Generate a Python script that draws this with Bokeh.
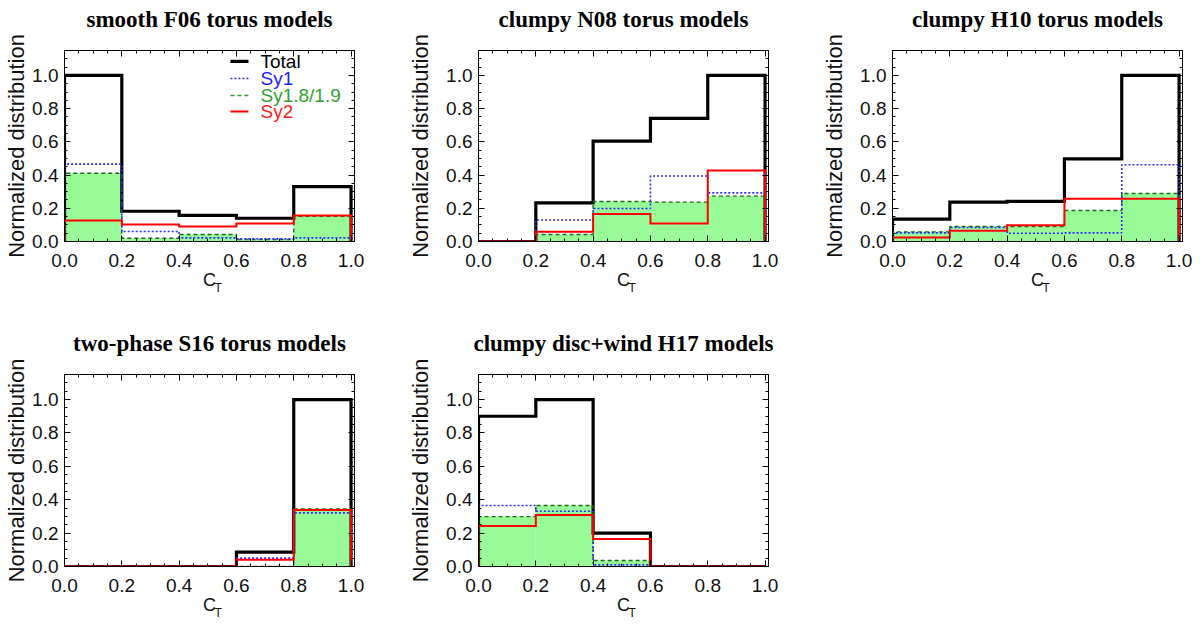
import numpy as np
from bokeh.plotting import figure
from bokeh.layouts import row, column
from bokeh.models import (LinearAxis, FixedTicker, PrintfTickFormatter, Range1d, Title,
                          CustomJSTickFormatter)
from bokeh.core.properties import value
from bokeh.embed import file_html
from bokeh.resources import INLINE

# ---------------- data ----------------
bin_edges = [0.0, 0.2, 0.4, 0.6, 0.8, 1.0]
x_major = [0.0, 0.2, 0.4, 0.6, 0.8, 1.0]
y_major = [0.0, 0.2, 0.4, 0.6, 0.8, 1.0]

series_names = ["Total", "Sy1", "Sy1.8/1.9", "Sy2"]

titles = ["smooth F06 torus models", "clumpy N08 torus models", "clumpy H10 torus models",
          "two-phase S16 torus models", "clumpy disc+wind H17 models"]

f06_total = [1.000, 0.182, 0.157, 0.140, 0.331]
f06_sy1 = [0.466, 0.060, 0.022, 0.016, 0.022]
f06_sy18 = [0.411, 0.020, 0.042, 0.012, 0.152]
f06_sy2 = [0.126, 0.102, 0.090, 0.108, 0.157]

n08_total = [0.000, 0.233, 0.604, 0.741, 1.000]
n08_sy1 = [0.000, 0.129, 0.199, 0.394, 0.293]
n08_sy18 = [0.000, 0.042, 0.241, 0.237, 0.273]
n08_sy2 = [0.000, 0.058, 0.165, 0.108, 0.428]

h10_total = [0.135, 0.237, 0.241, 0.498, 1.000]
h10_sy1 = [0.052, 0.084, 0.050, 0.052, 0.462]
h10_sy18 = [0.058, 0.090, 0.090, 0.187, 0.289]
h10_sy2 = [0.024, 0.064, 0.098, 0.257, 0.257]

s16_total = [0.000, 0.000, 0.000, 0.086, 1.000]
s16_sy1 = [0.000, 0.000, 0.000, 0.050, 0.321]
s16_sy18 = [0.000, 0.000, 0.000, 0.000, 0.345]
s16_sy2 = [0.000, 0.000, 0.000, 0.040, 0.339]

h17_total = [0.900, 1.000, 0.200, 0.000, 0.000]
h17_sy1 = [0.365, 0.331, 0.010, 0.000, 0.000]
h17_sy18 = [0.299, 0.365, 0.036, 0.000, 0.000]
h17_sy2 = [0.242, 0.309, 0.164, 0.000, 0.000]

# ---------------- styles ----------------
SANS = "Liberation Sans"
SERIF = "Liberation Serif"
C_TOTAL = "black"
C_SY1 = "#2a2aff"
C_SY18 = "#1d6b1d"
C_SY2 = "#ff0000"
C_FILL = "#98fb98"
LEG_TEXT_COLORS = ["black", "#1f1fff", "#2f9f2f", "#ff1a1a"]
MINOR = [i * 0.05 for i in range(24)]


def outline(edges, vals):
    xs = [edges[0]]
    ys = [0.0]
    for i, v in enumerate(vals):
        xs += [edges[i], edges[i + 1]]
        ys += [v, v]
    xs.append(edges[-1])
    ys.append(0.0)
    return xs, ys


def style_axis(ax, ticks, labels=True, standoff=7):
    ax.ticker = FixedTicker(ticks=ticks, minor_ticks=MINOR)
    ax.major_tick_in = 6
    ax.major_tick_out = 0
    ax.minor_tick_in = 3
    ax.minor_tick_out = 0
    ax.axis_line_color = "black"
    ax.major_tick_line_color = "black"
    ax.minor_tick_line_color = "black"
    ax.axis_line_width = 1
    if labels:
        ax.formatter = PrintfTickFormatter(format="%.1f")
        ax.major_label_text_font = SANS
        ax.major_label_text_font_size = "19px"
        ax.major_label_text_color = "#111111"
        ax.major_label_standoff = standoff
    else:
        ax.formatter = CustomJSTickFormatter(code="return ''")
        ax.major_label_standoff = 0


def make_panel(title, total, sy1, sy18, sy2, lb, rb, tb, bb, fh, yl_standoff, legend=False):
    p = figure(frame_width=290, frame_height=fh,
               min_border_left=lb, min_border_right=rb, min_border_top=tb, min_border_bottom=bb,
               x_range=Range1d(0, 1.012), y_range=Range1d(0, 1.15),
               output_backend="svg", toolbar_location=None, tools="")
    p.title = None
    p.grid.visible = False
    p.outline_line_color = "black"
    p.background_fill_color = "white"
    p.border_fill_color = "white"

    xa = p.xaxis[0]
    ya = p.yaxis[0]
    style_axis(xa, x_major, standoff=12)
    style_axis(ya, y_major, standoff=6)
    top = LinearAxis()
    style_axis(top, x_major, labels=False)
    p.add_layout(top, "above")
    right = LinearAxis()
    style_axis(right, y_major, labels=False)
    p.add_layout(right, "right")

    # panel title, written as the label of the top axis
    top.axis_label = title
    top.axis_label_text_font = SERIF
    top.axis_label_text_font_style = "bold"
    top.axis_label_text_font_size = "23px"
    top.axis_label_text_color = "black"
    top.axis_label_standoff = 19

    ya.axis_label = "Normalized distribution"
    ya.axis_label_text_font = SANS
    ya.axis_label_text_font_style = "normal"
    ya.axis_label_text_font_size = "22px"
    ya.axis_label_text_color = "#111111"
    ya.axis_label_standoff = yl_standoff

    xa.axis_label = "C"
    xa.axis_label_text_font = SANS
    xa.axis_label_text_font_style = "normal"
    xa.axis_label_text_font_size = "18px"
    xa.axis_label_text_color = "#111111"
    xa.axis_label_standoff = 0

    # subscript T of the x label
    p.add_layout(Title(text="T", align="left", offset=150, standoff=-24, vertical_align="top",
                       text_font=SANS, text_font_size="12px", text_font_style="normal",
                       text_color="#111111"), "below")

    p.quad(left=bin_edges[:-1], right=bin_edges[1:], bottom=0, top=sy18,
           fill_color=C_FILL, line_color=None)
    xs, ys = outline(bin_edges, total)
    p.line(xs, ys, line_color=C_TOTAL, line_width=3.2, line_join="miter")
    xs, ys = outline(bin_edges, sy18)
    p.line(xs, ys, line_color=C_SY18, line_width=1.4, line_dash="4 3")
    xs, ys = outline(bin_edges, sy1)
    p.line(xs, ys, line_color=C_SY1, line_width=1.6, line_dash="2 2")
    xs, ys = outline(bin_edges, sy2)
    p.line(xs, ys, line_color=C_SY2, line_width=2, line_join="miter")

    if legend:
        ly = [1.084, 0.981, 0.879, 0.783]
        lx0, lx1, ltx = 0.579, 0.642, 0.684
        p.segment(x0=[lx0], y0=[ly[0]], x1=[lx1], y1=[ly[0]], line_color=C_TOTAL, line_width=3.2)
        p.segment(x0=[lx0], y0=[ly[1]], x1=[lx1], y1=[ly[1]], line_color=C_SY1, line_width=1.6, line_dash="2 2")
        p.segment(x0=[lx0], y0=[ly[2]], x1=[lx1], y1=[ly[2]], line_color="#2f9f2f", line_width=1.5, line_dash="4 3")
        p.segment(x0=[lx0], y0=[ly[3]], x1=[lx1], y1=[ly[3]], line_color=C_SY2, line_width=2)
        p.text(x=[ltx] * 4, y=ly, text=series_names, text_color=LEG_TEXT_COLORS,
               text_font=value(SANS), text_font_size=value("19px"), text_baseline="middle",
               text_align="left")
    return p


p1 = make_panel(titles[0], f06_total, f06_sy1, f06_sy18, f06_sy2, 64, 50, 50, 83, 191, 0, legend=True)
p2 = make_panel(titles[1], n08_total, n08_sy1, n08_sy18, n08_sy2, 74, 50, 50, 83, 191, 10)
p3 = make_panel(titles[2], h10_total, h10_sy1, h10_sy18, h10_sy2, 74, 16, 50, 83, 191, 10)
p4 = make_panel(titles[3], s16_total, s16_sy1, s16_sy18, s16_sy2, 64, 50, 50, 60, 192, 0)
p5 = make_panel(titles[4], h17_total, h17_sy1, h17_sy18, h17_sy2, 74, 16, 50, 60, 192, 10)

layout = column(row(p1, p2, p3), row(p4, p5))

open("out.html", "w").write(file_html(layout, INLINE))
